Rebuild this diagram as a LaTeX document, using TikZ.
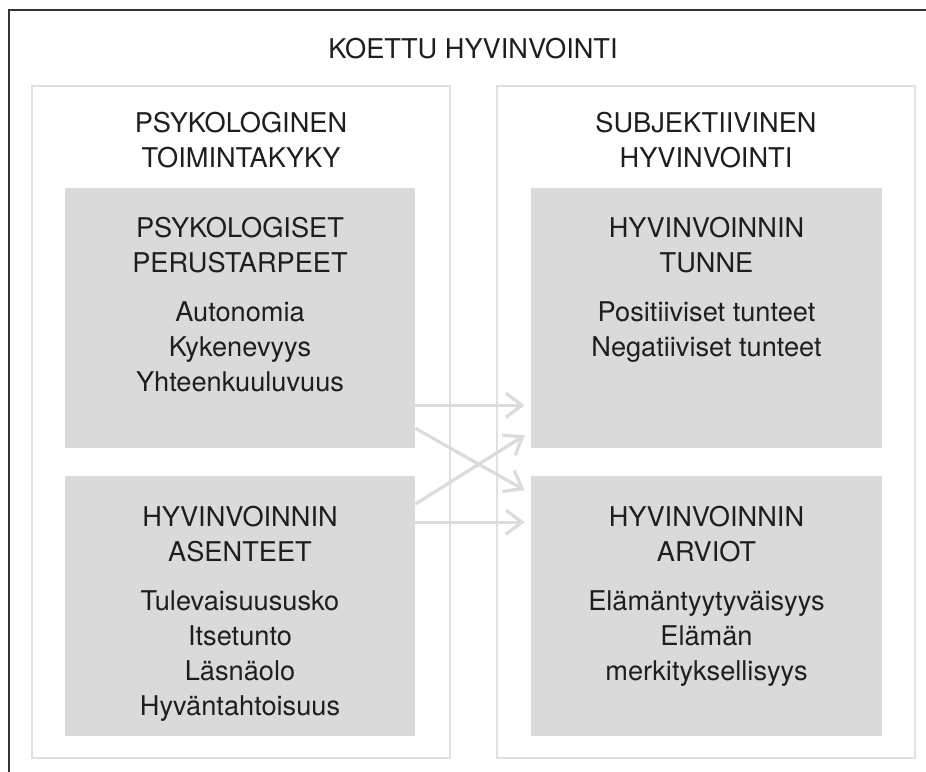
\documentclass[tikz,border=0pt]{standalone}
\usepackage{fontspec}
\setmainfont{TeX Gyre Heros}
\usepackage{tikz}
\usetikzlibrary{
  arrows.meta,
  positioning,
  calc
}
\definecolor{kehysvari}{RGB}{51,51,51}
\definecolor{paneelivari}{RGB}{224,224,224}
\definecolor{laatikkovari}{RGB}{218,218,218}
\definecolor{nuolivari}{RGB}{220,220,220}
\definecolor{tekstivari}{RGB}{30,30,30}
\tikzset{
  kehys/.style={
    draw=kehysvari, line width=1.6pt
  },
  paneeli/.style={
    rectangle, draw=paneelivari, line width=1.5pt,
    minimum width=313.5pt, minimum height=504pt, inner sep=0pt
  },
  laatikko/.style={
    rectangle, fill=laatikkovari, minimum width=262.5pt,
    minimum height=195pt, inner sep=0pt
  },
  teksti/.style={
    align=center, inner sep=0pt, text=tekstivari
  },
  nuoli/.style={-{Straight Barb[length=12pt,width=18pt]}, line width=2.5pt, color=nuolivari}
}

\begin{document}
\begin{tikzpicture}[x=0.75pt, y=0.75pt, font=\fontsize{20.4}{26.25}\selectfont]
  \useasboundingbox (0,0) rectangle (926,772);
  % Outer frame
  \draw[kehys] (926,762) -- (9,762) -- (9,0);
  % Panels
  \node[paneeli] (vasen) at (241,350) {};
  \node[paneeli] (oikea) at (706,350) {};
  % Grey boxes
  \node[laatikko] (tarpeet) at (240,454) {};
  \node[laatikko] (asenteet) at (240,165.5) {};
  \node[laatikko, minimum width=263.25pt] (tunne) at (706.5,454) {};
  \node[laatikko, minimum width=263.25pt] (arviot) at (706.5,165.5) {};
  % Headings
  \node[teksti, anchor=north] (otsikko) at (473,734) {KOETTU HYVINVOINTI};
  \node[teksti, below=20pt of vasen.north] (vasenotsikko)
    {PSYKOLOGINEN\\TOIMINTAKYKY};
  \node[teksti, below=20pt of oikea.north] (oikeaotsikko)
    {SUBJEKTIIVINEN\\HYVINVOINTI};
  % Box texts
  \node[teksti, below=22.2pt of tarpeet.north] (tarpeetteksti)
    {PSYKOLOGISET\\PERUSTARPEET\\[10.5pt]Autonomia\\Kykenevyys\\Yhteenkuuluvuus};
  \node[teksti, below=22.2pt of asenteet.north] (asenteetteksti)
    {HYVINVOINNIN\\ASENTEET\\[10.5pt]Tulevaisuususko\\Itsetunto\\Läsnäolo\\Hyväntahtoisuus};
  \node[teksti, below=22.2pt of tunne.north] (tunneteksti)
    {HYVINVOINNIN\\TUNNE\\[10.5pt]Positiiviset tunteet\\Negatiiviset tunteet};
  \node[teksti, below=22.2pt of arviot.north] (arviotteksti)
    {HYVINVOINNIN\\ARVIOT\\[10.5pt]Elämäntyytyväisyys\\Elämän\\merkityksellisyys};
  % Arrow ends
  \coordinate (a1) at ($(tarpeet.south east)+(0,43)$);
  \coordinate (a2) at ($(tarpeet.south east)+(0,20)$);
  \coordinate (a3) at ($(asenteet.north east)+(0,-28)$);
  \coordinate (a4) at ($(asenteet.north east)+(0,-46)$);
  \coordinate (b1) at ($(tunne.south west)+(-6,43)$);
  \coordinate (b3) at ($(tunne.south west)+(-6,13)$);
  \coordinate (b2) at ($(arviot.north west)+(-6,-14)$);
  \coordinate (b4) at ($(arviot.north west)+(-6,-46)$);
  % Arrows
  \draw[nuoli] (a1) -- (b1);
  \draw[nuoli] (a2) -- (b2);
  \draw[nuoli] (a3) -- (b3);
  \draw[nuoli] (a4) -- (b4);
\end{tikzpicture}
\end{document}
